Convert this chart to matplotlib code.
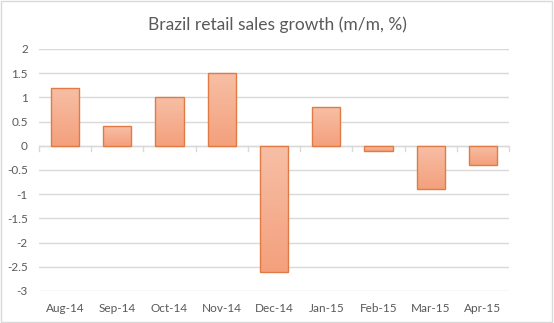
import numpy as np
import matplotlib.pyplot as plt
from matplotlib.colors import LinearSegmentedColormap
from matplotlib.patches import Rectangle

months = ["Aug-14", "Sep-14", "Oct-14", "Nov-14", "Dec-14", "Jan-15", "Feb-15", "Mar-15", "Apr-15"]
growth = [1.2, 0.4, 1.0, 1.5, -2.6, 0.8, -0.1, -0.9, -0.4]
yticks = [-3, -2.5, -2, -1.5, -1, -0.5, 0, 0.5, 1, 1.5, 2]

plt.rcParams['font.family'] = ['Lato', 'DejaVu Sans']
grey = "#595959"
grid = "#d9d9d9"

fig = plt.figure(figsize=(5.54, 3.23), dpi=100)
ax = fig.add_axes([0.0704, 0.0991, 0.8484, 0.7492])

x = np.arange(len(months))
bars = ax.bar(x, growth, width=0.54, facecolor="none", edgecolor="#e07b43", linewidth=1.0, zorder=3)

# gradient fill, light at top, darker at bottom
cmap = LinearSegmentedColormap.from_list("grad", ["#f7bfa6", "#f4a07c"])
grad = np.linspace(0, 1, 256).reshape(-1, 1)
for b in bars:
    x0, y0 = b.get_x(), b.get_y()
    w, h = b.get_width(), b.get_height()
    lo, hi = min(y0, y0 + h), max(y0, y0 + h)
    im = ax.imshow(grad, cmap=cmap, aspect="auto", extent=[x0, x0 + w, lo, hi],
                   origin="upper", zorder=2)
    im.set_clip_path(b)

ax.set_xlim(-0.5, len(months) - 0.5)
ax.set_ylim(-3, 2)
ax.set_yticks(yticks)
ax.set_yticklabels([f"{t:g}" for t in yticks])
ax.yaxis.grid(True, color=grid, linewidth=1.0, zorder=0)
ax.set_axisbelow(True)
for s in ax.spines.values():
    s.set_visible(False)
ax.tick_params(axis="y", length=0, labelsize=8.5, labelcolor=grey, pad=8)
ax.set_xticks(x)
ax.set_xticklabels(months)
ax.tick_params(axis="x", length=0, labelsize=8.5, labelcolor=grey, pad=9)

# zero axis line with category separators
ax.axhline(0, color=grid, linewidth=1.0, zorder=1)
for b in np.arange(-0.5, len(months), 1.0):
    ax.plot([b, b], [0, -0.1], color=grid, linewidth=1.0, zorder=1, clip_on=False)

fig.text(0.5, 0.925, "Brazil retail sales growth (m/m, %)", ha="center", va="center",
         fontsize=12.5, color=grey)

fig.patches.append(Rectangle((0.002, 0.003), 0.995, 0.993, transform=fig.transFigure,
                             fill=False, edgecolor=grid, linewidth=1.0))

fig.savefig("out.png", dpi=100)
